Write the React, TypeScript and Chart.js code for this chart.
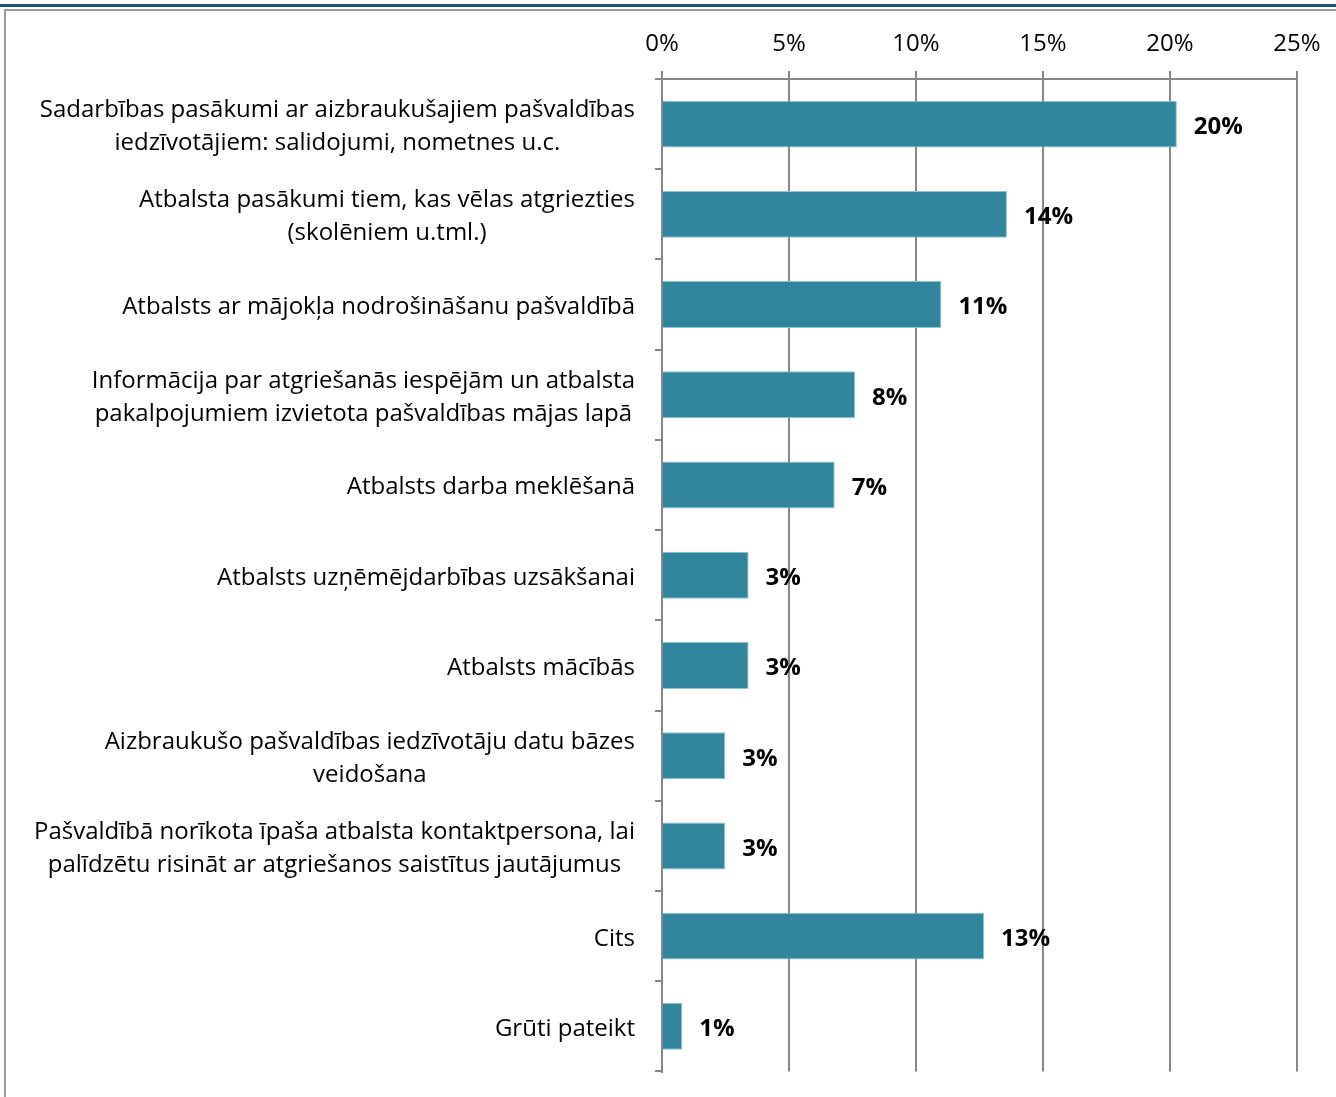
import { useEffect, useRef } from "react";
import { Chart, registerables } from "chart.js";

Chart.register(...registerables);

const categories: string[][] = [
  ["Sadarbības pasākumi ar aizbraukušajiem pašvaldības", "iedzīvotājiem: salidojumi, nometnes u.c."],
  ["Atbalsta pasākumi tiem, kas vēlas atgriezties", "(skolēniem u.tml.)"],
  ["Atbalsts ar mājokļa nodrošināšanu pašvaldībā"],
  ["Informācija par atgriešanās iespējām un atbalsta", "pakalpojumiem izvietota pašvaldības mājas lapā"],
  ["Atbalsts darba meklēšanā"],
  ["Atbalsts uzņēmējdarbības uzsākšanai"],
  ["Atbalsts mācībās"],
  ["Aizbraukušo pašvaldības iedzīvotāju datu bāzes", "veidošana"],
  ["Pašvaldībā norīkota īpaša atbalsta kontaktpersona, lai", "palīdzētu risināt ar atgriešanos saistītus jautājumus"],
  ["Cits"],
  ["Grūti pateikt"],
];

const values: number[] = [20.27, 13.58, 11.0, 7.6, 6.8, 3.41, 3.41, 2.49, 2.49, 12.68, 0.8];

const valueLabels: string[] = ["20%", "14%", "11%", "8%", "7%", "3%", "3%", "3%", "3%", "13%", "1%"];

const xTickValues: number[] = [0, 5, 10, 15, 20, 25];

const FONT = "'Open Sans'";
const FONT_SIZE = 24;
const BAR_COLOR = "#31859C";
const GRID_COLOR = "#878787";

export default function App() {
  const canvasRef = useRef<HTMLCanvasElement | null>(null);

  useEffect(() => {
    document.body.style.margin = "0";
    const canvas = canvasRef.current;
    if (!canvas) return;

    const labelPlugin = {
      id: "customLabels",
      afterDraw(chart: any) {
        const ctx = chart.ctx;
        const yScale = chart.scales.y;
        ctx.save();
        ctx.fillStyle = "#000";
        ctx.font = `${FONT_SIZE}px ${FONT}`;
        ctx.textAlign = "center";
        ctx.textBaseline = "middle";
        const rightEdge = 635;
        const lineH = 33;
        categories.forEach((lines, i) => {
          const yc = yScale.getPixelForValue(i) + 2.5;
          const blockW = Math.max(...lines.map((l) => ctx.measureText(l).width));
          const cx = rightEdge - blockW / 2;
          lines.forEach((l, j) => {
            ctx.fillText(l, cx, yc + (j - (lines.length - 1) / 2) * lineH);
          });
        });
        const meta = chart.getDatasetMeta(0);
        ctx.font = `bold ${FONT_SIZE}px ${FONT}`;
        ctx.textAlign = "left";
        meta.data.forEach((bar: any, i: number) => {
          ctx.fillText(valueLabels[i], bar.x + 17, bar.y + 3);
        });
        ctx.restore();
      },
    };

    const chart = new Chart(canvas, {
      type: "bar",
      data: {
        labels: categories.map((c) => c.join(" ")),
        datasets: [
          {
            data: values,
            backgroundColor: BAR_COLOR,
            borderColor: "#8fc4d3",
            borderWidth: 1,
            barPercentage: 0.52,
            categoryPercentage: 1,
          },
        ],
      },
      options: {
        indexAxis: "y",
        responsive: false,
        animation: false,
        devicePixelRatio: 1,
        layout: { padding: { left: 0, right: 39, top: 0, bottom: 25.5 } },
        plugins: {
          legend: { display: false },
          tooltip: { enabled: false },
        },
        scales: {
          x: {
            position: "top",
            min: 0,
            max: 25,
            afterBuildTicks: (scale: any) => {
              scale.ticks = xTickValues.map((v) => ({ value: v }));
            },
            afterFit: (scale: any) => {
              scale.height = 79;
            },
            ticks: {
              stepSize: 5,
              padding: 12,
              color: "#000",
              font: { family: FONT, size: FONT_SIZE },
              callback: (v: any) => `${v}%`,
            },
            grid: {
              color: GRID_COLOR,
              lineWidth: 2,
              tickLength: 8,
            },
            border: { display: true, color: GRID_COLOR, width: 2 },
          },
          y: {
            afterFit: (scale: any) => {
              scale.width = 662;
            },
            ticks: { display: false },
            grid: {
              offset: true,
              drawOnChartArea: false,
              drawTicks: true,
              tickLength: 7,
              color: GRID_COLOR,
              lineWidth: 2,
            },
            border: { display: true, color: GRID_COLOR, width: 2 },
          },
        },
      },
      plugins: [labelPlugin],
    } as any);

    return () => chart.destroy();
  }, []);

  return (
    <div style={{ position: "relative", width: 1336, height: 1097, background: "#fff", overflow: "hidden" }}>
      <div style={{ position: "absolute", left: 0, right: 0, top: 4, height: 3, background: "#1F4E79" }} />
      <div style={{ position: "absolute", left: 4, right: 0, top: 9, height: 2, background: "#9a9a9a" }} />
      <div style={{ position: "absolute", left: 4, top: 9, bottom: 0, width: 2, background: "#9a9a9a" }} />
      <canvas
        ref={canvasRef}
        width={1336}
        height={1097}
        style={{ position: "absolute", left: 0, top: 0, width: 1336, height: 1097 }}
      />
    </div>
  );
}
